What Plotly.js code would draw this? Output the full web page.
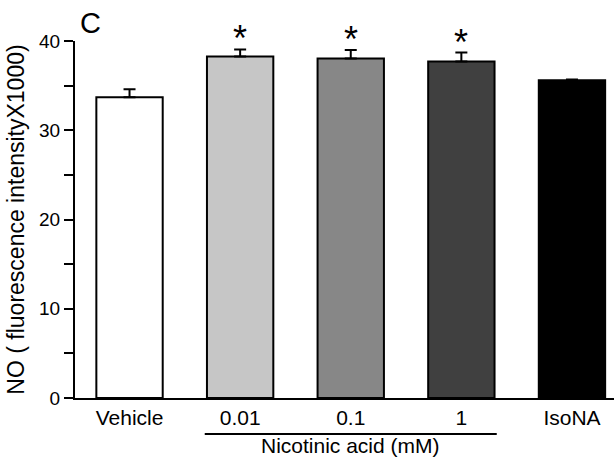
<!DOCTYPE html>
<html>
<head>
<meta charset="utf-8">
<script src="https://cdn.plot.ly/plotly-3.0.1.min.js"></script>
<style>html,body{margin:0;padding:0;background:#fff;}#chart{width:614px;height:470px;}</style>
</head>
<body>
<div id="chart"></div>
<script>
const categories = ["Vehicle", "0.01", "0.1", "1", "IsoNA"];
const values = [33.7, 38.25, 38.05, 37.7, 35.6];
const sem = [0.9, 0.8, 0.95, 1.0, 0.1];
const colors = ["#ffffff", "#c6c6c6", "#878787", "#404040", "#000000"];
const significant = [false, true, true, true, false];
const groupLabel = "Nicotinic acid (mM)";
const groupFirst = 1, groupLast = 3;
const yTitle = "NO ( fluorescence intensityX1000)";
const panelLetter = "C";

const font = "Liberation Sans, Arial, sans-serif";

const trace = {
  type: "bar",
  x: categories,
  y: values,
  width: 0.6,
  marker: {color: colors, line: {color: "#000", width: 2}},
  error_y: {type: "data", array: sem, arrayminus: sem.map(() => 0), symmetric: false,
            color: "#000", thickness: 2, width: 6},
  hoverinfo: "none"
};

const annotations = [];
categories.forEach((c, i) => {
  if (significant[i]) {
    annotations.push({x: i, y: values[i] + sem[i], xref: "x", yref: "y", text: "*",
      showarrow: false, yanchor: "bottom", yshift: -12,
      font: {family: font, size: 36, color: "#000"}});
  }
});
annotations.push({x: (groupFirst + groupLast) / 2, y: -0.132, xref: "x", yref: "paper",
  text: groupLabel, showarrow: false, yanchor: "middle",
  font: {family: font, size: 21, color: "#000"}});
annotations.push({x: 0.028, y: 1.05, xref: "paper", yref: "paper",
  text: panelLetter, showarrow: false, xanchor: "center", yanchor: "middle",
  font: {family: font, size: 29, color: "#000"}});

const layout = {
  width: 614, height: 470,
  margin: {l: 75, r: 0, t: 41, b: 72},
  paper_bgcolor: "#fff", plot_bgcolor: "#fff",
  showlegend: false,
  font: {family: font, color: "#000"},
  xaxis: {
    type: "category",
    range: [-0.493, 4.38],
    showline: true, linewidth: 2, linecolor: "#000",
    ticks: "", showgrid: false, zeroline: false,
    tickfont: {family: font, size: 21, color: "#000"},
    ticklabelstandoff: 0
  },
  yaxis: {
    range: [0, 40],
    tickvals: [0, 10, 20, 30, 40],
    showline: true, linewidth: 2, linecolor: "#000",
    ticks: "outside", ticklen: 9, tickwidth: 2, tickcolor: "#000",
    minor: {tickvals: [5, 15, 25, 35], ticks: "outside", ticklen: 9, tickwidth: 2, tickcolor: "#000", showgrid: false},
    showgrid: false, zeroline: false,
    tickfont: {family: font, size: 19, color: "#000"},
    ticklabelstandoff: 0,
    title: {text: yTitle, font: {family: font, size: 23, color: "#000"}, standoff: 8}
  },
  shapes: [{type: "line", xref: "x", yref: "paper",
    x0: groupFirst - 0.32, x1: groupLast + 0.32, y0: -0.101, y1: -0.101,
    line: {color: "#000", width: 2}}],
  annotations: annotations
};

Plotly.newPlot("chart", [trace], layout, {displayModeBar: false, staticPlot: true});
</script>
</body>
</html>
